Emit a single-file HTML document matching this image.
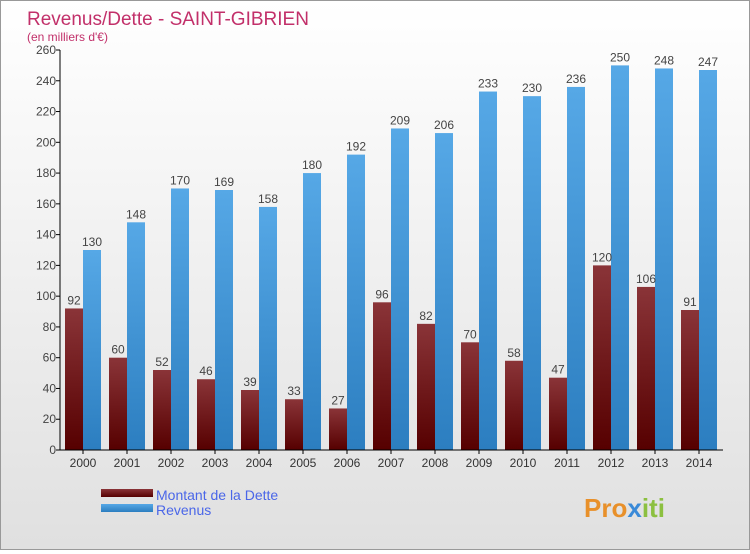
<!DOCTYPE html>
<html><head><meta charset="utf-8"><style>
body{margin:0;width:750px;height:550px;overflow:hidden;font-family:"Liberation Sans",sans-serif}
#wrap{position:relative;width:748px;height:548px;border:1px solid #999;background:linear-gradient(#fff,#e0e0e0)}
</style></head><body>
<div id="wrap">
<svg id="chart" width="748" height="548">
<defs>
<linearGradient id="gd" x1="0" y1="0" x2="0" y2="1"><stop offset="0" stop-color="#8a3438"/><stop offset="1" stop-color="#560000"/></linearGradient>
<linearGradient id="gr" x1="0" y1="0" x2="0" y2="1"><stop offset="0" stop-color="#56a8e6"/><stop offset="1" stop-color="#2c7ec0"/></linearGradient>
</defs>
<text x="26" y="24" font-size="19" fill="#c2306a">Revenus/Dette - SAINT-GIBRIEN</text>
<text x="26" y="40" font-size="12" fill="#c2306a">(en milliers d'€)</text>
<g id="plot"></g>
<g>
<rect x="100" y="488" width="52" height="8" fill="url(#gd)"/>
<text x="155" y="499" font-size="14" fill="#4a66e8">Montant de la Dette</text>
<rect x="100" y="503" width="52" height="8" fill="url(#gr)"/>
<text x="155" y="514" font-size="14" fill="#4a66e8">Revenus</text>
</g>
<text x="583" y="516" font-size="26" font-weight="bold" fill="#e8902a">Pro<tspan fill="#3a8ad8">x</tspan><tspan fill="#8cc040">iti</tspan></text>
</svg>
</div>
<script>
const years=["2000","2001","2002","2003","2004","2005","2006","2007","2008","2009","2010","2011","2012","2013","2014"];
const debt=[92,60,52,46,39,33,27,96,82,70,58,47,120,106,91];
const revenue=[130,148,170,169,158,180,192,209,206,233,230,236,250,248,247];
const ticks=[0,20,40,60,80,100,120,140,160,180,200,220,240,260];
const NS="http://www.w3.org/2000/svg";
const g=document.getElementById('plot');
const y0=449,ppu=400/260,x0=59,step=44;
const yS=v=>y0-v*ppu, xS=i=>x0+5+i*step;
function mk(t,a){const e=document.createElementNS(NS,t);for(const k in a)e.setAttribute(k,a[k]);g.appendChild(e);return e;}
years.forEach((yr,i)=>{
 const x=xS(i);
 const b1=mk('rect',{x:x,y:yS(debt[i]),width:18,height:debt[i]*ppu,fill:'url(#gd)'});
 
 
 const b2=mk('rect',{x:x+18,y:yS(revenue[i]),width:18,height:revenue[i]*ppu,fill:'url(#gr)'});
 
 
 const l1=mk('text',{x:x+9,y:yS(debt[i])-4,'font-size':12,fill:'#444','text-anchor':'middle'});l1.textContent=debt[i];
 
 
 const l2=mk('text',{x:x+27,y:yS(revenue[i])-4,'font-size':12,fill:'#444','text-anchor':'middle'});l2.textContent=revenue[i];
 
 
 const xl=mk('text',{x:x+18,y:466,'font-size':12,fill:'#333','text-anchor':'middle'});xl.textContent=yr;
 
 
 mk('line',{x1:x+18,x2:x+18,y1:y0,y2:y0+4,stroke:'#000'});
});
ticks.forEach(t=>{
 mk('line',{x1:x0-4,x2:x0,y1:yS(t),y2:yS(t),stroke:'#000'});
 const tl=mk('text',{x:x0-4,y:yS(t)+4,'font-size':12,fill:'#444','text-anchor':'end'});tl.textContent=t;
 
 
});
const ya=mk('line',{x1:x0,x2:x0,y1:yS(260),y2:y0,stroke:'#000'});


const xa=mk('line',{x1:x0,x2:722,y1:y0,y2:y0,stroke:'#000'});


</script>
</body></html>
